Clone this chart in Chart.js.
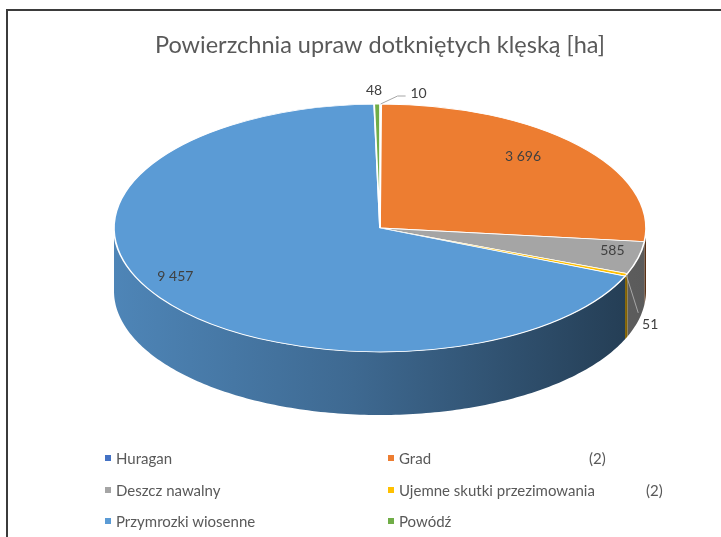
<!DOCTYPE html>
<html><head><meta charset="utf-8">
<script src="https://cdn.jsdelivr.net/npm/chart.js@4/dist/chart.umd.min.js"></script>
<style>
html,body{margin:0;padding:0;background:#fff;}
#wrap{position:relative;width:721px;height:537px;overflow:hidden;font-family:Lato,'Open Sans',sans-serif;background:#fff;}
#frame{position:absolute;left:6px;top:9px;width:800px;height:600px;border-top:2px solid #3b3b3b;border-left:2px solid #3b3b3b;}
#c{position:absolute;left:0;top:0;}
#legend{position:absolute;left:0;top:0;width:721px;height:537px;}
.li{position:absolute;font-size:15px;color:#595959;white-space:nowrap;line-height:18px;height:18px;}
.li i{position:absolute;left:-11px;top:6px;width:6px;height:6px;}
.li span.note{position:absolute;top:0;}
</style></head>
<body><div id="wrap"><div id="frame"></div><canvas id="c" width="721" height="537"></canvas><div id="legend"></div></div>
<script>
// ---- data ----
const categories = ['Huragan', 'Grad', 'Deszcz nawalny', 'Ujemne skutki przezimowania', 'Przymrozki wiosenne', 'Powódź'];
const values = [10, 3696, 585, 51, 9457, 48];
const valueLabels = ['10', '3 696', '585', '51', '9 457', '48'];
const legendNotes = ['', '(2)', '', '(2)', '', ''];
const chartTitle = 'Powierzchnia upraw dotkniętych klęską [ha]';

// ---- styles ----
const topColors = ['#4472C4', '#ED7D31', '#A5A5A5', '#FFC000', '#5B9BD5', '#70AD47'];
const sideDark = [0.38, 0.38, 0.55, 0.5, 0.38, 0.38];
const labelPlacement = [
  {r: 1.0, dx: 38, dy: -11, leader: [[17, -8], [25, -8]]},
  {r: 0.72, dy: -12},
  {r: 0.9, dy: -4},
  {r: 1.0, dx: 24, dy: 50, leader: [[12, 38]]},
  {r: 0.93, dy: -16},
  {r: 1.0, dx: -3, dy: -14}
];
const legendCols = [116, 399];
const legendRows = [458, 490, 521];
const legendNoteOffset = [0, 190, 0, 247, 0, 0];

function shade(hex, f) {
  const n = parseInt(hex.slice(1), 16);
  const r = Math.round(((n >> 16) & 255) * f), g = Math.round(((n >> 8) & 255) * f), b = Math.round((n & 255) * f);
  return 'rgb(' + r + ',' + g + ',' + b + ')';
}

const pie3d = {
  id: 'pie3d',
  beforeDatasetsDraw(chart, args, opts) {
    const meta = chart.getDatasetMeta(0);
    const ca = chart.chartArea;
    const arc0 = meta.data[0];
    const R = arc0.outerRadius, cx = arc0.x, cy = arc0.y;
    const a = (ca.right - ca.left) / 2, b = (ca.bottom - ca.top) / 2;
    const depth = b * opts.depthRatio;
    const ctx = chart.ctx;
    meta.data.forEach((arc, i) => {
      const s = Math.max(arc.startAngle, 0), e = Math.min(arc.endAngle, Math.PI);
      if (e <= s) return;
      const N = Math.max(4, Math.ceil((e - s) * 60));
      ctx.beginPath();
      for (let k = 0; k <= N; k++) {
        const t = s + (e - s) * k / N;
        ctx.lineTo(cx + a * Math.cos(t), cy + b * Math.sin(t));
      }
      for (let k = N; k >= 0; k--) {
        const t = s + (e - s) * k / N;
        ctx.lineTo(cx + a * Math.cos(t), cy + b * Math.sin(t) + depth);
      }
      ctx.closePath();
      const g = ctx.createLinearGradient(ca.left, 0, ca.right, 0);
      const col = topColors[i];
      g.addColorStop(0, shade(col, 0.86));
      g.addColorStop(0.45, shade(col, 0.68));
      g.addColorStop(1, shade(col, sideDark[i]));
      ctx.fillStyle = g;
      ctx.fill();
    });
    ctx.save();
    ctx.translate(cx, cy);
    ctx.scale(a / R, b / R);
    ctx.translate(-cx, -cy);
  },
  afterDatasetsDraw(chart) {
    chart.ctx.restore();
    const meta = chart.getDatasetMeta(0);
    const ca = chart.chartArea;
    const arc0 = meta.data[0];
    const cx = arc0.x, cy = arc0.y;
    const a = (ca.right - ca.left) / 2, b = (ca.bottom - ca.top) / 2;
    const ctx = chart.ctx;
    ctx.save();
    ctx.font = '14px Lato, "Open Sans", sans-serif';
    ctx.textAlign = 'center';
    ctx.textBaseline = 'middle';
    meta.data.forEach((arc, i) => {
      const p = labelPlacement[i];
      const m = (arc.startAngle + arc.endAngle) / 2;
      const ax = cx + p.r * a * Math.cos(m), ay = cy + p.r * b * Math.sin(m);
      const lx = ax + (p.dx || 0), ly = ay + (p.dy || 0);
      if (p.leader) {
        ctx.strokeStyle = '#a6a6a6';
        ctx.lineWidth = 1;
        ctx.beginPath();
        ctx.moveTo(ax, ay);
        p.leader.forEach(q => ctx.lineTo(ax + q[0], ay + q[1]));
        ctx.stroke();
      }
      ctx.fillStyle = '#404040';
      ctx.fillText(valueLabels[i], lx, ly);
    });
    ctx.restore();
  }
};

new Chart(document.getElementById('c'), {
  type: 'pie',
  data: {
    labels: categories,
    datasets: [{
      data: values,
      backgroundColor: topColors,
      borderColor: '#ffffff',
      borderWidth: 0.8,
      clip: false
    }]
  },
  options: {
    responsive: false,
    animation: false,
    events: [],
    layout: {padding: {top: 10, left: 114, right: 75, bottom: 185}},
    plugins: {
      legend: {display: false},
      tooltip: {enabled: false},
      title: {
        display: true,
        text: chartTitle,
        color: '#595959',
        font: {family: 'Lato, "Open Sans", sans-serif', size: 23.5, weight: 'normal'},
        padding: {top: 21.5, bottom: 44.3}
      },
      pie3d: {depthRatio: 63 / 124}
    }
  },
  plugins: [pie3d]
});

// ---- legend ----
const leg = document.getElementById('legend');
categories.forEach((name, i) => {
  const d = document.createElement('div');
  d.className = 'li';
  d.style.left = legendCols[i % 2] + 'px';
  d.style.top = (legendRows[Math.floor(i / 2)] - 9) + 'px';
  const mk = document.createElement('i');
  mk.style.background = topColors[i];
  d.appendChild(mk);
  d.appendChild(document.createTextNode(name));
  if (legendNotes[i]) {
    const n = document.createElement('span');
    n.className = 'note';
    n.style.left = legendNoteOffset[i] + 'px';
    n.textContent = legendNotes[i];
    d.appendChild(n);
  }
  leg.appendChild(d);
});
</script>
</body></html>
